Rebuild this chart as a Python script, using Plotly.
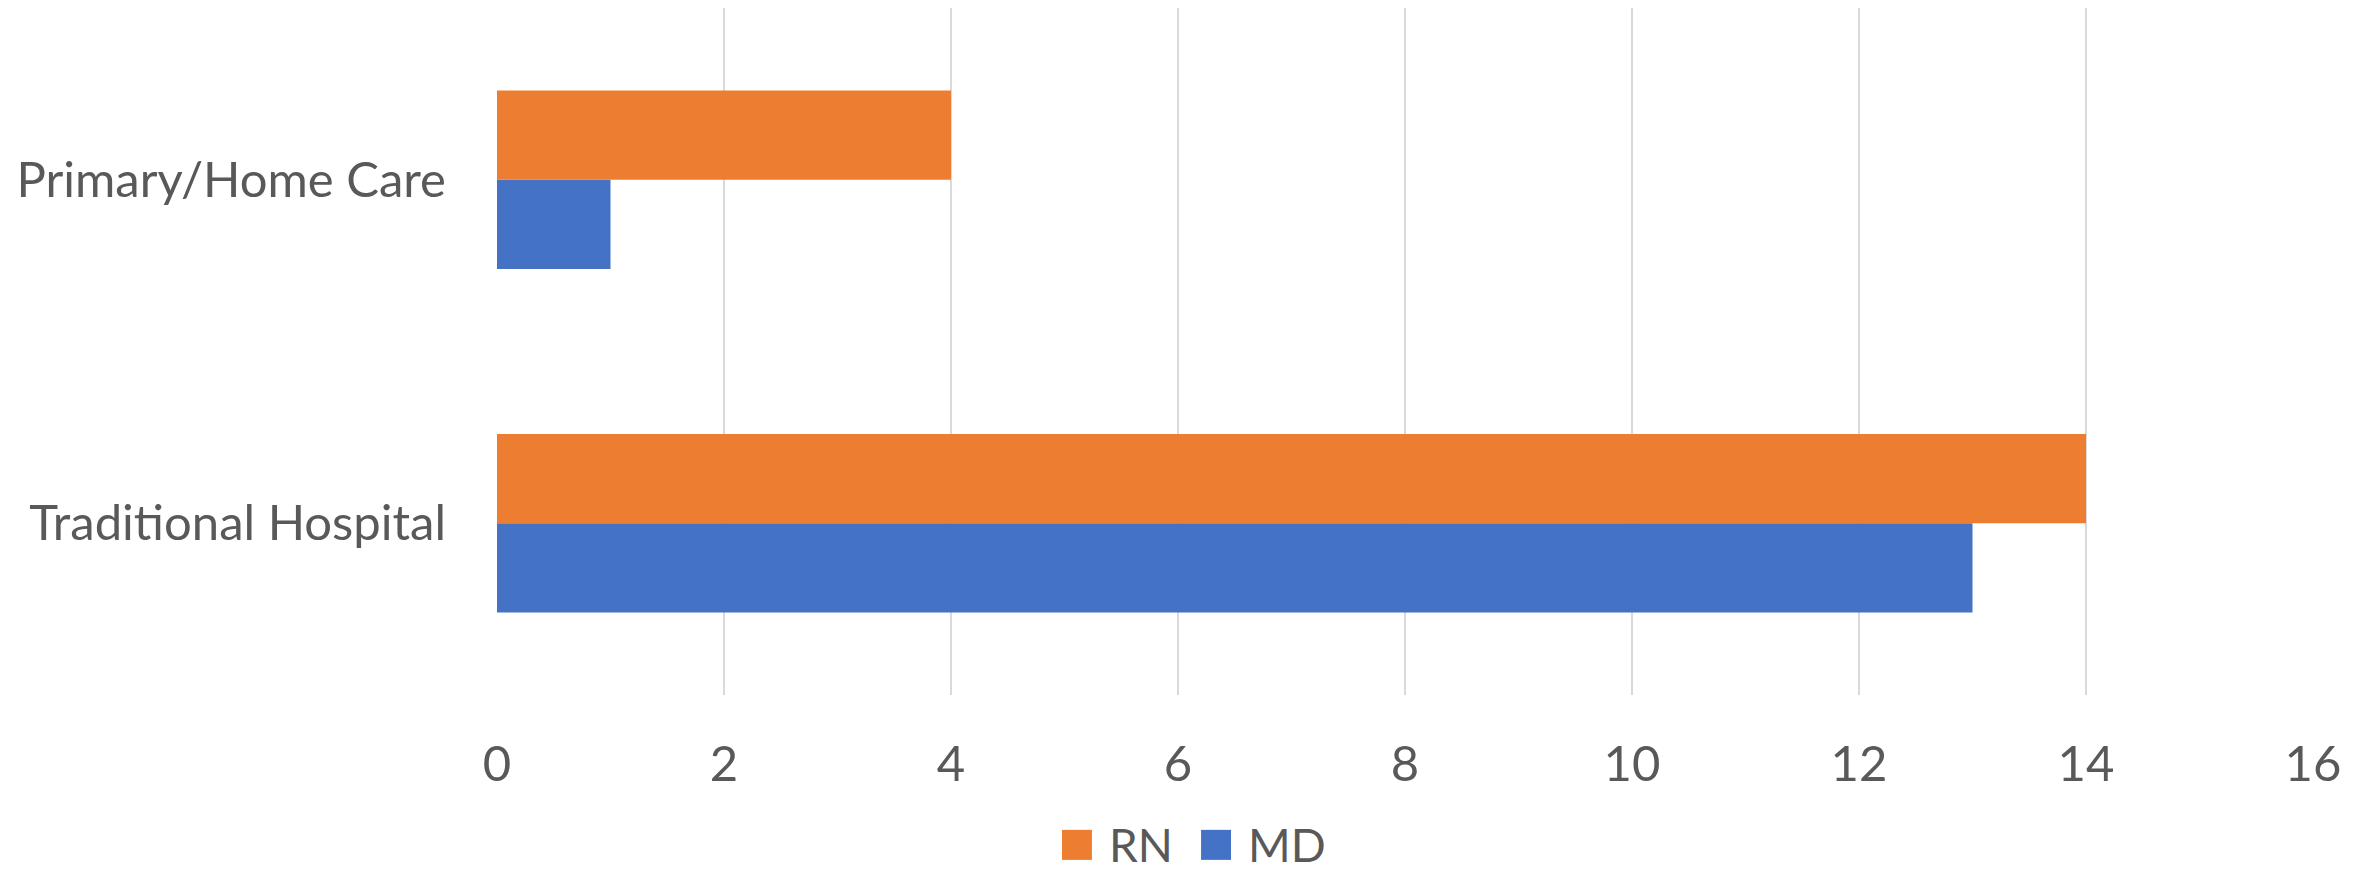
import plotly.graph_objects as go

# Staffing counts by care setting
categories = ["Traditional Hospital", "Primary/Home Care"]
md_values = [13, 1]
rn_values = [14, 4]
x_ticks = [0, 2, 4, 6, 8, 10, 12, 14, 16]

TEXT = "#595959"
FONT = "Lato"
ORANGE = "#ED7D31"
BLUE = "#4472C4"

fig = go.Figure()
fig.add_trace(go.Bar(
    y=categories, x=md_values, name="MD", orientation="h",
    marker=dict(color=BLUE, line=dict(width=0)),
))
fig.add_trace(go.Bar(
    y=categories, x=rn_values, name="RN", orientation="h",
    marker=dict(color=ORANGE, line=dict(width=0)),
))

# Legend drawn below the plot: square swatch plus label for each series
legend_items = [("RN", ORANGE, 0.3111), ("MD", BLUE, 0.3877)]
swatch_w = 0.0165
for label, color, x0 in legend_items:
    fig.add_shape(
        type="rect", xref="paper", yref="paper",
        x0=x0, x1=x0 + swatch_w, y0=-0.2400, y1=-0.1963,
        fillcolor=color, line=dict(width=0),
    )
    fig.add_annotation(
        xref="paper", yref="paper", x=x0 + swatch_w + 0.0085, y=-0.2182,
        text=label, showarrow=False, xanchor="left", yanchor="middle",
        font=dict(size=46, color=TEXT, family=FONT),
    )

fig.update_layout(
    width=2369, height=871,
    margin=dict(l=497, r=56, t=8, b=176, autoexpand=False),
    paper_bgcolor="white", plot_bgcolor="white",
    barmode="group", bargap=0.48, bargroupgap=0,
    font=dict(family=FONT, color=TEXT, size=49),
    showlegend=False,
    xaxis=dict(
        range=[0, 16], tickvals=x_ticks, ticktext=[str(v) for v in x_ticks],
        showgrid=True, gridcolor="#D9D9D9", gridwidth=2,
        zeroline=False, showline=False, ticks="",
        ticklabelstandoff=36,
        tickfont=dict(size=49, color=TEXT, family=FONT),
    ),
    yaxis=dict(
        type="category", categoryorder="array", categoryarray=categories,
        range=[-0.5, 1.5],
        showgrid=False, zeroline=False, showline=False, ticks="",
        ticklabelstandoff=50,
        tickfont=dict(size=49, color=TEXT, family=FONT),
    ),
)

fig.write_html("out.html")
